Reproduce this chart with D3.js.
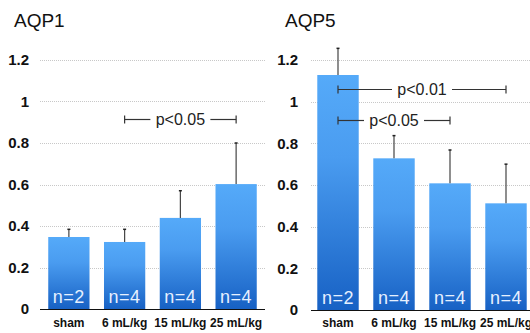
<!DOCTYPE html>
<html>
<head>
<meta charset="utf-8">
<script src="https://cdn.jsdelivr.net/npm/d3@7"></script>
<style>
  body { margin: 0; background: #fff; }
  svg { display: block; font-family: "Liberation Sans", Arial, sans-serif; }
</style>
</head>
<body>
<script>
var categories = ["sham", "6 mL/kg", "15 mL/kg", "25 mL/kg"];
var nLabels = ["n=2", "n=4", "n=4", "n=4"];
var yTicks = [0, 0.2, 0.4, 0.6, 0.8, 1, 1.2];

var aqp1Means = [0.347, 0.323, 0.439, 0.602];
var aqp1Err = [0.037, 0.061, 0.131, 0.198];
var aqp5Means = [1.128, 0.728, 0.608, 0.512];
var aqp5Err = [0.128, 0.109, 0.160, 0.188];

var aqp1Sig = [{ from: 1, to: 3, y: 0.915, label: "p<0.05" }];
var aqp5Sig = [
  { from: 0, to: 3, y: 1.06, label: "p<0.01" },
  { from: 0, to: 2, y: 0.91, label: "p<0.05" }
];

var width = 530, height = 333;

var svg = d3.select("body").append("svg")
    .attr("width", width)
    .attr("height", height);

var defs = svg.append("defs");
var grad = defs.append("linearGradient")
    .attr("id", "barGrad")
    .attr("x1", 0).attr("y1", 0).attr("x2", 0).attr("y2", 1);
grad.append("stop").attr("offset", "0%").attr("stop-color", "#55aaf9");
grad.append("stop").attr("offset", "35%").attr("stop-color", "#4a9cf0");
grad.append("stop").attr("offset", "100%").attr("stop-color", "#1761c4");

function drawPanel(opts) {
  var y = d3.scaleLinear().domain([0, 1.2]).range([opts.y0, 60]);
  var x = d3.scaleBand().domain(categories)
      .range([opts.x0, opts.x1]).paddingInner(0.26).paddingOuter(0.13);

  var g = svg.append("g");

  g.append("text")
      .attr("x", opts.titleX)
      .attr("y", 27)
      .style("font-size", "19px")
      .style("fill", "#111")
      .text(opts.title);

  // gridlines
  g.selectAll(".grid")
      .data(yTicks.filter(function(d) { return d > 0; }))
    .enter().append("line")
      .attr("x1", opts.gridX0)
      .attr("x2", opts.gridX1)
      .attr("y1", function(d) { return Math.round(y(d)) + 0.5; })
      .attr("y2", function(d) { return Math.round(y(d)) + 0.5; })
      .style("stroke", "#c8c8c8")
      .style("stroke-width", 1)
      .style("stroke-dasharray", "1,1");

  // y tick labels
  g.selectAll(".ylab")
      .data(yTicks)
    .enter().append("text")
      .attr("x", opts.labelX)
      .attr("y", function(d) { return y(d); })
      .attr("dy", "0.36em")
      .attr("text-anchor", "end")
      .style("font-size", "15px")
      .style("font-weight", "bold")
      .style("fill", "#111")
      .text(function(d) { return d; });

  // bars
  g.selectAll(".bar")
      .data(opts.means)
    .enter().append("rect")
      .attr("x", function(d, i) { return x(categories[i]); })
      .attr("y", function(d) { return y(d); })
      .attr("width", x.bandwidth())
      .attr("height", function(d) { return y(0) - y(d); })
      .style("fill", "url(#barGrad)");

  // error bars (upper only)
  var err = g.selectAll(".err")
      .data(opts.means)
    .enter().append("g");
  err.append("line")
      .attr("x1", function(d, i) { return x(categories[i]) + x.bandwidth() / 2; })
      .attr("x2", function(d, i) { return x(categories[i]) + x.bandwidth() / 2; })
      .attr("y1", function(d) { return y(d); })
      .attr("y2", function(d, i) { return y(d + opts.err[i]); })
      .style("stroke", "#444")
      .style("stroke-width", 1.2);
  err.append("line")
      .attr("x1", function(d, i) { return x(categories[i]) + x.bandwidth() / 2 - 1.5; })
      .attr("x2", function(d, i) { return x(categories[i]) + x.bandwidth() / 2 + 1.5; })
      .attr("y1", function(d, i) { return y(d + opts.err[i]); })
      .attr("y2", function(d, i) { return y(d + opts.err[i]); })
      .style("stroke", "#222")
      .style("stroke-width", 1.5);

  // n labels
  g.selectAll(".nlab")
      .data(nLabels)
    .enter().append("text")
      .attr("x", function(d, i) { return x(categories[i]) + x.bandwidth() / 2; })
      .attr("y", y(0) - 6)
      .attr("text-anchor", "middle")
      .style("font-size", "18px")
      .style("letter-spacing", "0.5px")
      .style("fill", "#e6f0ff")
      .text(function(d) { return d; });

  // baseline
  g.append("line")
      .attr("x1", opts.gridX0)
      .attr("x2", opts.gridX1)
      .attr("y1", y(0) + 0.5)
      .attr("y2", y(0) + 0.5)
      .style("stroke", "#111")
      .style("stroke-width", 1.2);

  // category labels
  g.selectAll(".xlab")
      .data(categories)
    .enter().append("text")
      .attr("x", function(d) { return x(d) + x.bandwidth() / 2; })
      .attr("y", 327)
      .attr("text-anchor", "middle")
      .style("font-size", "12px")
      .style("font-weight", "bold")
      .style("fill", "#111")
      .text(function(d) { return d; });

  // significance brackets
  opts.sig.forEach(function(s) {
    var xa = x(categories[s.from]) + x.bandwidth() / 2;
    var xb = x(categories[s.to]) + x.bandwidth() / 2;
    var yy = Math.round(y(s.y)) + 0.5;
    var tx = (xa + xb) / 2;
    var gap = 30;
    var bg = g.append("g").style("stroke", "#333").style("stroke-width", 1.2);
    bg.append("line").attr("x1", xa).attr("x2", tx - gap).attr("y1", yy).attr("y2", yy);
    bg.append("line").attr("x1", tx + gap).attr("x2", xb).attr("y1", yy).attr("y2", yy);
    bg.append("line").attr("x1", xa).attr("x2", xa).attr("y1", yy - 4).attr("y2", yy + 4);
    bg.append("line").attr("x1", xb).attr("x2", xb).attr("y1", yy - 4).attr("y2", yy + 4);
    g.append("text")
        .attr("x", tx)
        .attr("y", yy)
        .attr("dy", "0.36em")
        .attr("text-anchor", "middle")
        .style("font-size", "16px")
        .style("fill", "#222")
        .text(s.label);
  });
}

drawPanel({
  title: "AQP1", titleX: 14, means: aqp1Means, err: aqp1Err, sig: aqp1Sig,
  x0: 41, x1: 264, y0: 309, gridX0: 40, gridX1: 265, labelX: 29
});

drawPanel({
  title: "AQP5", titleX: 285, means: aqp5Means, err: aqp5Err, sig: aqp5Sig,
  x0: 310, x1: 534, y0: 310, gridX0: 311, gridX1: 530, labelX: 298
});
</script>
</body>
</html>
